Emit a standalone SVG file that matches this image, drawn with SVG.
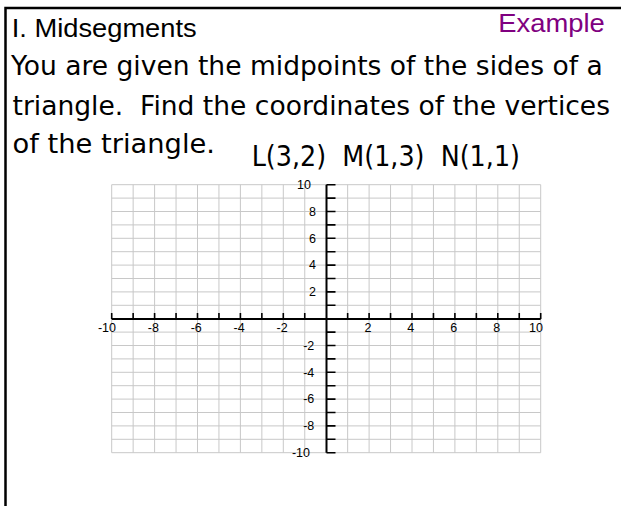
<svg xmlns="http://www.w3.org/2000/svg" width="621" height="506" viewBox="0 0 621 506">
<style>
.body{font-family:"DejaVu Sans","Noto Sans",sans-serif;font-size:26px;fill:#000;white-space:pre}
.head{font-family:"Liberation Sans",Arial,sans-serif;font-size:26px}
.lab{font-family:"Liberation Sans",Arial,sans-serif;font-size:12.5px;fill:#000}
.grid{stroke:#c8c8c8;stroke-width:1;fill:none}
.axis{stroke:#000;stroke-width:2;fill:none}
.tick{stroke:#000;stroke-width:1.6;fill:none}
</style>
<rect width="621" height="506" fill="#fff"/>
<path id="border" d="M5.5,506 V8 H621" fill="none" stroke="#000" stroke-width="2.5"/>
<g id="title">
<text class="head" x="11.7" y="37" textLength="185" lengthAdjust="spacingAndGlyphs" fill="#000">I. Midsegments</text>
<text class="head" x="498.3" y="32.3" textLength="106.5" lengthAdjust="spacingAndGlyphs" fill="#800080">Example</text>
</g>
<g id="problem">
<text class="body" x="11" y="74.5" textLength="591.7" lengthAdjust="spacingAndGlyphs" xml:space="preserve">You are given the midpoints of the sides of a</text>
<text class="body" x="12.5" y="115" textLength="597.5" lengthAdjust="spacingAndGlyphs" xml:space="preserve">triangle.  Find the coordinates of the vertices</text>
<text class="body" x="12.5" y="152.5" textLength="202.5" lengthAdjust="spacingAndGlyphs">of the triangle.</text>
<text class="body" x="251.7" y="165.5" style="font-size:29px" textLength="268.3" lengthAdjust="spacingAndGlyphs" xml:space="preserve">L(3,2)  M(1,3)  N(1,1)</text>
</g>
<g id="grid">
<path class="grid" d="M111.7,184.7V452.7M133.15,184.7V452.7M154.6,184.7V452.7M176.05,184.7V452.7M197.5,184.7V452.7M218.95,184.7V452.7M240.4,184.7V452.7M261.85,184.7V452.7M283.3,184.7V452.7M304.75,184.7V452.7M347.65,184.7V452.7M369.1,184.7V452.7M390.55,184.7V452.7M412,184.7V452.7M433.45,184.7V452.7M454.9,184.7V452.7M476.35,184.7V452.7M497.8,184.7V452.7M519.25,184.7V452.7M540.7,184.7V452.7
M111.7,184.7H540.7M111.7,198.1H540.7M111.7,211.5H540.7M111.7,224.9H540.7M111.7,238.3H540.7M111.7,251.7H540.7M111.7,265.1H540.7M111.7,278.5H540.7M111.7,291.9H540.7M111.7,305.3H540.7M111.7,332.1H540.7M111.7,345.5H540.7M111.7,358.9H540.7M111.7,372.3H540.7M111.7,385.7H540.7M111.7,399.1H540.7M111.7,412.5H540.7M111.7,425.9H540.7M111.7,439.3H540.7M111.7,452.7H540.7"/>
</g>
<g id="axes">
<path class="axis" d="M326.5,184.7V452.7M111.7,318.9H540.7"/>
<path class="tick" d="M326.5,184.7H335.5M326.5,198.1H335.5M326.5,211.5H335.5M326.5,224.9H335.5M326.5,238.3H335.5M326.5,251.7H335.5M326.5,265.1H335.5M326.5,278.5H335.5M326.5,291.9H335.5M326.5,305.3H335.5M326.5,332.1H335.5M326.5,345.5H335.5M326.5,358.9H335.5M326.5,372.3H335.5M326.5,385.7H335.5M326.5,399.1H335.5M326.5,412.5H335.5M326.5,425.9H335.5M326.5,439.3H335.5M326.5,452.7H335.5"/>
<path class="tick" d="M111.7,313V318.9M133.15,313V318.9M154.6,313V318.9M176.05,313V318.9M197.5,313V318.9M218.95,313V318.9M240.4,313V318.9M261.85,313V318.9M283.3,313V318.9M304.75,313V318.9M347.65,313V318.9M369.1,313V318.9M390.55,313V318.9M412,313V318.9M433.45,313V318.9M454.9,313V318.9M476.35,313V318.9M497.8,313V318.9M519.25,313V318.9M540.7,313V318.9"/>
</g>
<g id="xlabels" class="lab" text-anchor="end">
<text x="116" y="332">-10</text>
<text x="158.9" y="332">-8</text>
<text x="201.8" y="332">-6</text>
<text x="244.7" y="332">-4</text>
<text x="287.6" y="332">-2</text>
<text x="371.4" y="332">2</text>
<text x="414.3" y="332">4</text>
<text x="457.2" y="332">6</text>
<text x="500.1" y="332">8</text>
<text x="543" y="332">10</text>
</g>
<g id="ylabels" class="lab" text-anchor="end">
<text x="311" y="188.8">10</text>
<text x="316" y="215.8">8</text>
<text x="316" y="242.6">6</text>
<text x="316" y="269.4">4</text>
<text x="316" y="296.2">2</text>
<text x="314.3" y="349.8">-2</text>
<text x="314.3" y="376.6">-4</text>
<text x="314.3" y="403.4">-6</text>
<text x="314.3" y="430.2">-8</text>
<text x="310" y="457">-10</text>
</g>
</svg>
